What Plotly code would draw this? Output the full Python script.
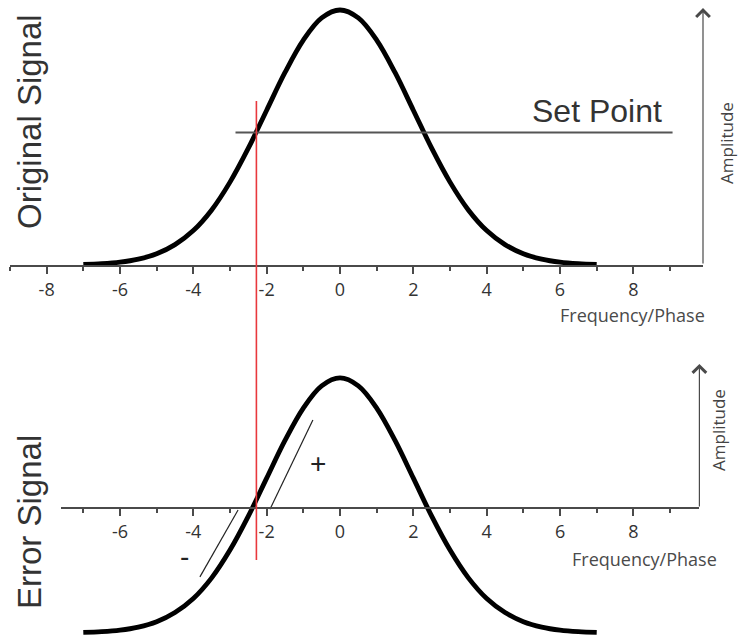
import plotly.graph_objects as go

# ---- data -------------------------------------------------------------
# frequency / phase detuning samples
FREQ = [-7.0, -6.5, -6.0, -5.5, -5.0, -4.5, -4.0, -3.5, -3.0, -2.5, -2.0, -1.5,
        -1.0, -0.5, 0.0, 0.5, 1.0, 1.5, 2.0, 2.5, 3.0, 3.5, 4.0, 4.5, 5.0,
        5.5, 6.0, 6.5, 7.0]

# original (resonance) signal amplitude
SIGNAL = [0.002, 0.005, 0.011, 0.023, 0.044, 0.080, 0.135, 0.216, 0.325,
          0.458, 0.607, 0.755, 0.882, 0.969, 1.000, 0.969, 0.882, 0.755,
          0.607, 0.458, 0.325, 0.216, 0.135, 0.080, 0.044, 0.023, 0.011,
          0.005, 0.002]

# error signal (signal relative to the lock point)
ERROR = [-0.488, -0.485, -0.479, -0.467, -0.446, -0.410, -0.355, -0.274,
         -0.165, -0.032, 0.117, 0.265, 0.392, 0.479, 0.510, 0.479, 0.392,
         0.265, 0.117, -0.032, -0.165, -0.274, -0.355, -0.410, -0.446,
         -0.467, -0.479, -0.485, -0.488]

SET_POINT = 0.52
SET_X = [-2.85, 9.07]          # extent of the set-point line
LOCK_X = -2.28                 # lock frequency (red marker)

# slope guides beside the error-signal zero crossing
PLUS_X = [-1.91, -0.74]
PLUS_Y = [-0.005, 0.345]
MINUS_X = [-3.82, -2.78]
MINUS_Y = [-0.27, -0.008]

TOP_TICKS = [-8, -6, -4, -2, 0, 2, 4, 6, 8]
TOP_MINOR = [-9, -7, -5, -3, -1, 1, 3, 5, 7, 9]
BOT_TICKS = [-6, -4, -2, 0, 2, 4, 6, 8]
BOT_MINOR = [-7, -5, -3, -1, 1, 3, 5, 7, 9]

# ---- figure -----------------------------------------------------------
W, H = 738, 637
AXIS_COL = "#4a4a4a"
TEXT_COL = "#333333"
SANS = "Liberation Sans, Arial, sans-serif"
UI = "Open Sans, sans-serif"


def px(xp):
    return xp / W


def py(yp):
    return 1 - yp / H


def tick_text(vals):
    # plain hyphen-minus for negative labels
    return [str(v) for v in vals]


fig = go.Figure()

fig.add_trace(go.Scatter(x=FREQ, y=SIGNAL, mode="lines", xaxis="x", yaxis="y",
                         line=dict(color="black", width=4.8, shape="spline",
                                   smoothing=1.0),
                         hoverinfo="skip"))
fig.add_trace(go.Scatter(x=SET_X, y=[SET_POINT, SET_POINT], mode="lines",
                         xaxis="x", yaxis="y",
                         line=dict(color="#555555", width=2), hoverinfo="skip"))

fig.add_trace(go.Scatter(x=FREQ, y=ERROR, mode="lines", xaxis="x2", yaxis="y2",
                         line=dict(color="black", width=4.8, shape="spline",
                                   smoothing=1.0),
                         hoverinfo="skip"))
fig.add_trace(go.Scatter(x=PLUS_X, y=PLUS_Y, mode="lines", xaxis="x2", yaxis="y2",
                         line=dict(color="#222222", width=1.2), hoverinfo="skip"))
fig.add_trace(go.Scatter(x=MINUS_X, y=MINUS_Y, mode="lines", xaxis="x2", yaxis="y2",
                         line=dict(color="#222222", width=1.2), hoverinfo="skip"))

tick_font = dict(family=UI, size=18, color=TEXT_COL)
common_x = dict(showline=True, linecolor=AXIS_COL, linewidth=2, ticks="outside",
                ticklen=7, tickwidth=1.5, tickcolor=AXIS_COL, showgrid=False,
                zeroline=False, tickfont=tick_font, tickmode="array",
                fixedrange=True)

fig.update_layout(
    width=W, height=H, margin=dict(l=0, r=0, t=0, b=0),
    paper_bgcolor="white", plot_bgcolor="white", showlegend=False,
    xaxis=dict(domain=[px(10), px(703)], range=[-9, 9.9], anchor="y",
               tickvals=TOP_TICKS, ticktext=tick_text(TOP_TICKS),
               minor=dict(tickvals=TOP_MINOR, ticks="outside", ticklen=4,
                          tickwidth=1.5, tickcolor=AXIS_COL),
               **common_x),
    yaxis=dict(domain=[py(265), 1], range=[0, 265 / 255], visible=False,
               anchor="x", fixedrange=True),
    xaxis2=dict(domain=[px(61.3), px(699.4)], range=[-7.6, 9.8], anchor="free",
                position=py(508), tickvals=BOT_TICKS,
                ticktext=tick_text(BOT_TICKS),
                minor=dict(tickvals=BOT_MINOR, ticks="outside", ticklen=4,
                           tickwidth=1.5, tickcolor=AXIS_COL),
                **common_x),
    yaxis2=dict(domain=[0, py(365)], range=[-129 / 255, 143 / 255],
                visible=False, anchor="x2", fixedrange=True),
)

# lock-point marker through both panels
fig.add_shape(type="line", xref="x", yref="paper", x0=LOCK_X, x1=LOCK_X,
              y0=py(560), y1=py(101), line=dict(color="#e8383d", width=1.6))

# amplitude arrows
fig.add_annotation(x=9.9, y=1.008, ax=9.9, ay=0, xref="x", yref="y",
                   axref="x", ayref="y", text="", showarrow=True,
                   arrowhead=4, arrowsize=2.2, arrowwidth=1.2,
                   arrowcolor=AXIS_COL)
fig.add_annotation(x=9.8, y=0.565, ax=9.8, ay=0, xref="x2", yref="y2",
                   axref="x2", ayref="y2", text="", showarrow=True,
                   arrowhead=4, arrowsize=2.2, arrowwidth=1.2,
                   arrowcolor=AXIS_COL)


def label(text, x, y, size, family=SANS, angle=0, color=TEXT_COL, **kw):
    fig.add_annotation(text=text, x=x, y=y, showarrow=False, textangle=angle,
                       xanchor="center", yanchor="middle",
                       font=dict(family=family, size=size, color=color), **kw)


label("Original Signal", px(29), py(122), 33, angle=-90, xref="paper", yref="paper")
label("Error Signal", px(29), py(522), 33, angle=-90, xref="paper", yref="paper")
label("Set Point", px(597), py(111), 32, xref="paper", yref="paper")
label("Amplitude", px(726), py(143), 17, family=UI, angle=-90, color="#444444",
      xref="paper", yref="paper")
label("Amplitude", px(718), py(430), 17, family=UI, angle=-90, color="#444444",
      xref="paper", yref="paper")
label("Frequency/Phase", px(632), py(315), 18, family=UI, color="#4a4a4a",
      xref="paper", yref="paper")
label("Frequency/Phase", px(644), py(559), 18, family=UI, color="#4a4a4a",
      xref="paper", yref="paper")
label("+", -0.6, 0.176, 28, xref="x2", yref="y2", color="#222222")
label("-", -4.23, -0.19, 28, xref="x2", yref="y2", color="#222222")

fig.write_html("out.html")
